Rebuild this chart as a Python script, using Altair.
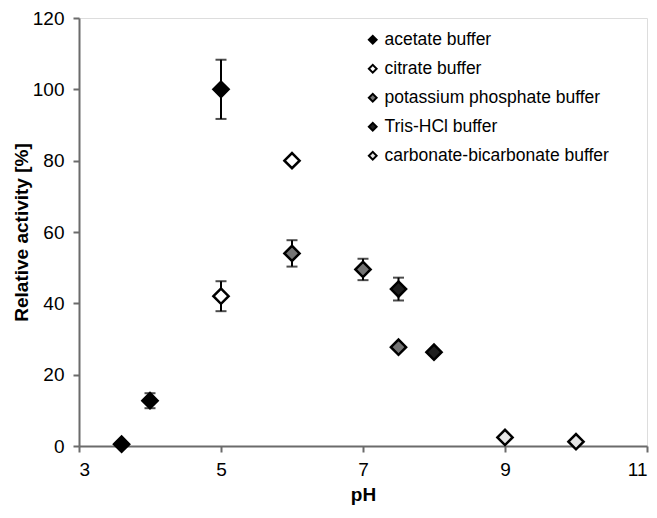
import altair as alt
import pandas as pd

series_names = ["acetate buffer", "citrate buffer", "potassium phosphate buffer",
                "Tris-HCl buffer", "carbonate-bicarbonate buffer"]
acetate_ph = [3.6, 4.0, 5.0]
acetate_act = [0.5, 12.7, 100.0]
acetate_err = [0.0, 2.1, 8.3]
citrate_ph = [5.0, 6.0]
citrate_act = [42.0, 80.0]
citrate_err = [4.2, 0.0]
phosphate_ph = [6.0, 7.0, 7.5]
phosphate_act = [54.0, 49.5, 27.7]
phosphate_err = [3.7, 3.0, 0.0]
tris_ph = [7.5, 8.0]
tris_act = [44.0, 26.3]
tris_err = [3.2, 0.0]
carbonate_ph = [9.0, 10.0]
carbonate_act = [2.4, 1.2]
carbonate_err = [0.0, 0.0]

fills = ["#000000", "#ffffff", "#747474", "#1e1e1e", "#e6e6e6"]

rows = []
for name, phs, acts, errs in zip(
        series_names,
        [acetate_ph, citrate_ph, phosphate_ph, tris_ph, carbonate_ph],
        [acetate_act, citrate_act, phosphate_act, tris_act, carbonate_act],
        [acetate_err, citrate_err, phosphate_err, tris_err, carbonate_err]):
    for p, a, e in zip(phs, acts, errs):
        rows.append({"buffer": name, "pH": p, "act": a, "lo": a - e, "hi": a + e, "err": e})
df = pd.DataFrame(rows)

font = "Liberation Sans"
xscale = alt.Scale(domain=[3, 11], nice=False, zero=False)
yscale = alt.Scale(domain=[0, 120], nice=False)

xaxis = alt.Axis(values=[3, 5, 7, 9, 11], title="pH", grid=False,
                 labelFont=font, labelFontSize=19, labelColor="black", labelPadding=8,
                 titleFont=font, titleFontSize=19, titleFontWeight="bold", titleColor="black",
                 titlePadding=6, domainColor="#6b6b6b", domainWidth=2,
                 tickColor="#6b6b6b", tickWidth=2, tickSize=6)
yaxis = alt.Axis(values=[0, 20, 40, 60, 80, 100, 120], title="Relative activity [%]", grid=False,
                 labelFont=font, labelFontSize=19, labelColor="black", labelPadding=9,
                 titleFont=font, titleFontSize=19, titleFontWeight="bold", titleColor="black",
                 titlePadding=1, domainColor="#6b6b6b", domainWidth=2,
                 tickColor="#6b6b6b", tickWidth=2, tickSize=6)

base = alt.Chart(df)

err = base.transform_filter(alt.datum.err > 0).mark_errorbar(
    ticks={"size": 11, "thickness": 2, "color": "black"}, thickness=2, color="black"
).encode(
    x=alt.X("pH:Q", scale=xscale, axis=xaxis),
    y=alt.Y("lo:Q", scale=yscale, axis=yaxis),
    y2="hi:Q",
)

pts = base.mark_point(shape="diamond", size=230, filled=False, stroke="black",
                      strokeWidth=2.5, opacity=1).encode(
    x=alt.X("pH:Q", scale=xscale, axis=xaxis),
    y=alt.Y("act:Q", scale=yscale, axis=yaxis),
    fill=alt.Fill("buffer:N", scale=alt.Scale(domain=series_names, range=fills),
                  sort=series_names,
                  legend=alt.Legend(title=None, orient="none", legendX=285, legendY=13,
                                    symbolType="diamond", symbolSize=60,
                                    symbolStrokeColor="black", symbolStrokeWidth=2,
                                    symbolOpacity=1,
                                    labelFont=font, labelFontSize=17.5, labelColor="black",
                                    labelOffset=3, rowPadding=10, labelLimit=400)),
)

chart = alt.layer(err, pts).properties(
    width=568, height=428,
    autosize=alt.AutoSizeParams(type="none"),
    padding={"left": 71, "top": 10, "right": 2, "bottom": 64},
).configure_view(stroke="black", strokeWidth=2).configure(background="white")

chart.save("out.html", embed_options={"renderer": "svg", "actions": False})
